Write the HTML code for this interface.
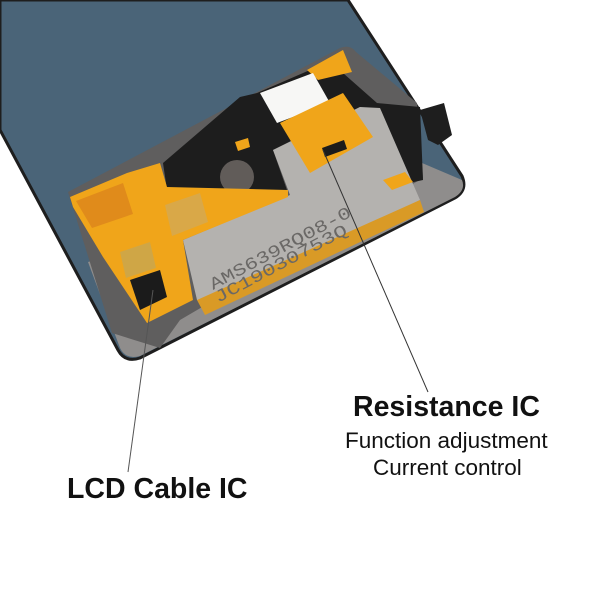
<!DOCTYPE html>
<html><head><meta charset="utf-8"><style>
html,body{margin:0;padding:0;background:#fff;}
body{width:600px;height:600px;position:relative;overflow:hidden;font-family:"Liberation Sans",Arial,sans-serif;}
.t{position:absolute;white-space:nowrap;color:#111;}
</style></head><body>
<svg width="600" height="600" style="position:absolute;left:0;top:0">
  <path d="M0,0 L348,0 L462,176 Q468,190 455,198 L140,358 Q125,363 118,350 L0,130 Z" fill="#4a6478" stroke="#1e1e1e" stroke-width="3"/>
  <path d="M88,262 L415,160 L462,180 Q466,190 455,197 L140,356 Q126,360 120,348 Z" fill="#8f8d8c"/>
  <path d="M68,192 L340,48 Q350,44 356,52 L417,103 L423,178 L180,320 L160,348 L112,333 Z" fill="#5f5e5e"/>
  <polygon points="163,163 240,97 257,93 310,70 343,73 377,103 420,107 423,180 400,185 360,107 273,150 288,193 167,190" fill="#1d1d1d"/>
  <polygon points="183,240 290,195 273,150 360,107 380,108 420,200 217,307 197,300" fill="#b4b2af"/>
  <circle cx="237" cy="177" r="17" fill="#615c59"/>
  <polygon points="70,197 127,173 160,163 167,187 288,190 288,197 183,240 193,300 147,323 103,257 73,207" fill="#f0a51a"/>
  <polygon points="76,201 123,183 133,214 92,228" fill="#e08b1b"/>
  <polygon points="165,205 200,193 208,222 172,236" fill="#d9a848"/>
  <polygon points="120,252 150,242 156,268 126,278" fill="#cfa646"/>
  <polygon points="130,280 160,270 167,297 140,310" fill="#1b1b1b"/>
  <polygon points="307,70 343,50 352,72 318,80" fill="#f0a51a"/>
  <polygon points="260,93 313,73 330,103 277,123" fill="#f7f7f5"/>
  <polygon points="280,123 343,93 373,137 310,173" fill="#f0a51a"/>
  <polygon points="322,148 344,140 347,149 325,157" fill="#1b1b1b"/>
  <polygon points="235,142 248,138 250,147 238,151" fill="#f0a51a"/>
  <polygon points="383,180 405,172 413,182 392,190" fill="#f0a51a"/>
  <polygon points="420,110 444,103 452,135 438,145 428,140" fill="#1e1e1e"/>
  <polygon points="197,300 420,200 424,212 205,315" fill="#d99a26"/>
  <text x="213" y="290" transform="rotate(-28 213 290)" font-family="Liberation Mono,monospace" font-size="17" textLength="158" lengthAdjust="spacingAndGlyphs" fill="#6a6866">AMS639RQ08-0</text>
  <text x="218" y="303" transform="rotate(-28 218 303)" font-family="Liberation Mono,monospace" font-size="17" textLength="148" lengthAdjust="spacingAndGlyphs" fill="#6a6866">JC19030753Q</text>
  <line x1="323" y1="150" x2="428" y2="392" stroke="#333" stroke-width="1"/>
  <line x1="153" y1="290" x2="128" y2="472" stroke="#555" stroke-width="1"/>
</svg>
<div class="t" style="left:353px;top:391px;font-size:28.5px;font-weight:bold;">Resistance IC</div>
<div class="t" style="left:345px;top:428px;font-size:22.5px;">Function adjustment</div>
<div class="t" style="left:373px;top:455px;font-size:22.5px;">Current control</div>
<div class="t" style="left:67px;top:473px;font-size:28.5px;font-weight:bold;">LCD Cable IC</div>
</body></html>
